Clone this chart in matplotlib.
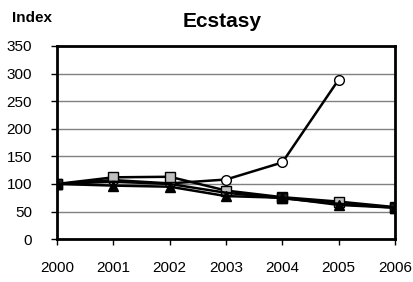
import matplotlib
matplotlib.use("Agg")
import matplotlib.pyplot as plt

plt.rcParams["font.family"] = ["Liberation Sans", "DejaVu Sans"]

years = [2000, 2001, 2002, 2003, 2004, 2005, 2006]
black_sq = [100, 104, 100, 84, 74, 64, 57]
gray_sq = [100, 112, 113, 88, 76, 68, 58]
triangle = [100, 97, 95, 78, 75, 62, 57]
circle_years = [2000, 2001, 2002, 2003, 2004, 2005]
circle = [100, 107, 101, 108, 139, 289]

fig = plt.figure(figsize=(4.14, 2.82), dpi=100)
ax = fig.add_axes([0.138, 0.152, 0.816, 0.685])

ax.plot(circle_years, circle, color="black", lw=1.8, marker="o", ms=7,
        mfc="white", mec="black", zorder=3)
ax.plot(years, gray_sq, color="black", lw=1.8, marker="s", ms=7,
        mfc="#c0c0c0", mec="black", zorder=4)
ax.plot(years, black_sq, color="black", lw=1.8, marker="s", ms=7,
        mfc="#202020", mec="black", markevery=[0, 4, 6], zorder=5)
ax.plot(years, triangle, color="black", lw=1.8, marker="^", ms=7,
        mfc="black", mec="black", zorder=6)

ax.set_xlim(2000, 2006)
ax.set_ylim(0, 350)
ax.set_xticks(years)
ax.set_yticks(range(0, 351, 50))
ax.yaxis.grid(True, color="#808080", lw=1)
ax.set_axisbelow(True)
for s in ax.spines.values():
    s.set_linewidth(2)
    s.set_color("black")
ax.tick_params(axis="x", direction="out", length=4, width=1, pad=12, labelsize=11)
ax.tick_params(axis="y", direction="out", length=4, width=1, pad=14, labelsize=11)

fig.text(0.537, 0.925, "Ecstasy", ha="center", va="center", fontsize=15, fontweight="bold")
fig.text(0.03, 0.935, "Index", ha="left", va="center", fontsize=11, fontweight="bold")

fig.savefig("out.png", dpi=100)
